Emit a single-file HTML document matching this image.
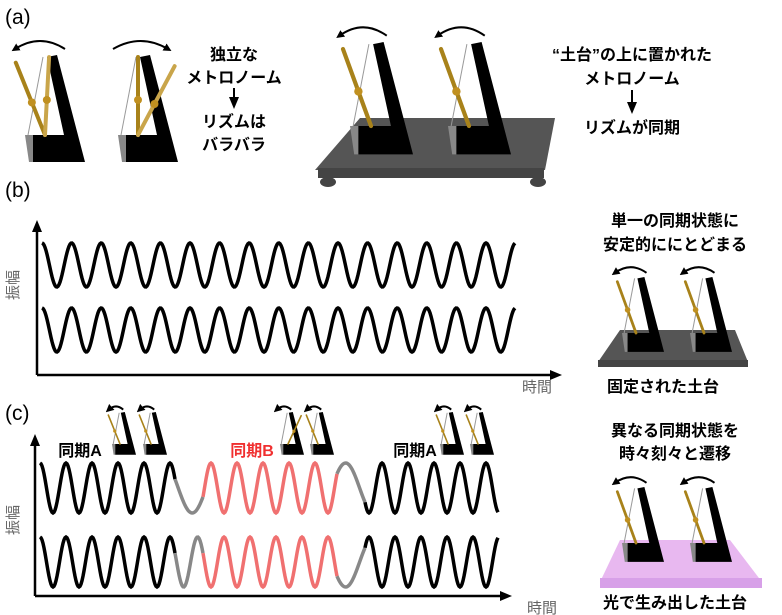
<!DOCTYPE html>
<html><head><meta charset="utf-8"><style>
body{margin:0;background:#fff}
svg{display:block}
text{font-family:"Liberation Sans","Noto Sans CJK JP",sans-serif;font-weight:bold}
</style></head><body>
<svg id="s" width="782" height="615" viewBox="0 0 782 615" xmlns="http://www.w3.org/2000/svg">
<defs>
<marker id="ar" markerUnits="userSpaceOnUse" markerWidth="12" markerHeight="12" refX="6" refY="6" orient="auto"><path d="M0,1 L12,6 L0,11 z" fill="#000"/></marker>
<marker id="sa" markerUnits="userSpaceOnUse" markerWidth="8" markerHeight="8" refX="4" refY="4" orient="auto"><path d="M0,0 L8,4 L0,8 z" fill="#000"/></marker>
</defs>
<text x="5" y="24" font-size="21" style="font-weight:normal">(a)</text>
<text x="5" y="197" font-size="21" style="font-weight:normal">(b)</text>
<text x="5" y="420" font-size="21" style="font-weight:normal">(c)</text>
<g font-size="16" text-anchor="middle">
<text x="234" y="60">独立な</text>
<text x="234" y="83">メトロノーム</text>
<text x="234" y="127">リズムは</text>
<text x="234" y="150">バラバラ</text>
<text x="632" y="60">“土台”の上に置かれた</text>
<text x="632" y="84">メトロノーム</text>
<text x="632" y="133">リズムが同期</text>
<text x="675" y="226">単一の同期状態に</text>
<text x="675" y="250">安定的ににとどまる</text>
<text x="663" y="392">固定された土台</text>
<text x="675" y="436">異なる同期状態を</text>
<text x="675" y="459">時々刻々と遷移</text>
<text x="675" y="608">光で生み出した土台</text>
<text x="80" y="456">同期A</text>
<text x="252" y="456" fill="#f03030">同期B</text>
<text x="415" y="456">同期A</text>
</g>
<g font-size="15" fill="#666">
<text x="522" y="392" style="font-weight:normal">時間</text>
<text x="527" y="613" style="font-weight:normal">時間</text>
<text transform="translate(18,300) rotate(-90)" style="font-weight:normal">振幅</text>
<text transform="translate(18,535) rotate(-90)" style="font-weight:normal">振幅</text>
</g>
<line x1="234" y1="88" x2="234" y2="103" stroke="#000" stroke-width="2" marker-end="url(#ar)"/>
<line x1="632" y1="90" x2="632" y2="108" stroke="#000" stroke-width="2" marker-end="url(#ar)"/>
<line x1="37" y1="375" x2="37" y2="226" stroke="#000" stroke-width="2.5" marker-end="url(#ar)"/>
<line x1="37" y1="375" x2="556" y2="375" stroke="#000" stroke-width="2.5" marker-end="url(#ar)"/>
<line x1="35" y1="596" x2="35" y2="440" stroke="#000" stroke-width="2.5" marker-end="url(#ar)"/>
<line x1="35" y1="596" x2="506" y2="596" stroke="#000" stroke-width="2.5" marker-end="url(#ar)"/>
<polygon points="360,118 555,118 545,170 315,170" fill="#555"/>
<rect x="318" y="168" width="226" height="10" fill="#444"/>
<ellipse cx="328" cy="182" rx="8" ry="5" fill="#444"/><ellipse cx="538" cy="182" rx="8" ry="5" fill="#444"/>
<polygon points="620,330 735,330 748,362 598,362" fill="#555"/>
<rect x="598" y="360" width="150" height="7" fill="#444"/>
<polygon points="620,540 730,540 762,582 600,582" fill="#e8b8f0"/>
<rect x="600" y="578" width="162" height="10" fill="#d7a0e8"/>
</svg>
<script>
var ns="http://www.w3.org/2000/svg",s=document.getElementById('s');
function el(t,a){var e=document.createElementNS(ns,t);for(var k in a)e.setAttribute(k,a[k]);s.appendChild(e);return e;}
function met(x,y,k,angs,arc,dir){
 function P(pts){return pts.map(function(p){return (x+p[0]*k)+','+(y+p[1]*k)}).join(' ');}
 el('polyline',{points:P([[18,2],[3,80]]),stroke:'#999','stroke-width':1,fill:'none'});
 el('polygon',{points:P([[0,80],[8,80],[8,107],[4,107]]),fill:'#888'});
 el('polygon',{points:P([[22,2],[32,0],[60,107],[8,107],[8,80],[39,80]]),fill:'#000'});
 angs.forEach(function(a,i){var r=a*Math.PI/180,px=20,py=80,L=78;
  var ex=px+Math.sin(r)*L,ey=py-Math.cos(r)*L;
  el('line',{x1:x+px*k,y1:y+py*k,x2:x+ex*k,y2:y+ey*k,stroke:i?'#c9a54a':'#a8821a','stroke-width':4*k,'stroke-linecap':'round'});
  el('circle',{cx:x+(px+(ex-px)*0.45)*k,cy:y+(py+(ey-py)*0.45)*k,r:4*k,fill:'#c09020'});});
 if(arc){var a0=arc[0],a1=arc[1];if(dir){var t=a0;a0=a1;a1=t;}
  el('path',{d:'M'+(x+a1*k)+','+(y-6*k)+' Q'+(x+((a0+a1)/2)*k)+','+(y-22*k)+' '+(x+a0*k)+','+(y-6*k),stroke:'#000','stroke-width':2,fill:'none','marker-end':'url(#sa)'});}
}
met(25,55,1,[-22,3],[-10,40]);
met(118,55,1,[0,28],[-5,50],1);
met(350,42,1.05,[-20],[-10,35]);
met(448,42,1.05,[-20],[-10,35]);
met(622,277,0.7,[-20],[-10,35]);
met(690,277,0.7,[-20],[-10,35]);
met(622,487,0.7,[-20],[-10,35]);
met(690,487,0.7,[-20],[-10,35]);
met(112,412,0.4,[-22],[-8,28]);met(143,412,0.4,[-22],[-8,28]);
met(280,412,0.4,[25],[-8,28]);met(310,412,0.4,[-22],[-8,28]);
met(440,412,0.4,[-22],[-8,28]);met(470,412,0.4,[-22],[-8,28]);
function wave(segs,cy,A,sw){var ph=Math.PI/2*3;
 segs.forEach(function(g){var d='';for(var x=g[0];x<=g[1]+0.01;x+=1){
  var p=ph+2*Math.PI*(x-g[0])/g[2];d+=(d?'L':'M')+x+','+(cy+A*Math.sin(p)).toFixed(2);}
  ph+=2*Math.PI*(g[1]-g[0])/g[2];
  el('path',{d:d,stroke:g[3],'stroke-width':sw,fill:'none'});});}
wave([[42,515,29.6,'#000']],265,22,3.5);
wave([[42,515,29.6,'#000']],330,22,3.5);
wave([[40,175,26,'#000'],[175,203,56,'#888'],[203,337,26,'#f07070'],[337,365,56,'#888'],[365,498,26,'#000']],488,25,3.5);
wave([[40,175,26,'#000'],[175,203,28,'#888'],[203,337,26,'#f07070'],[337,365,56,'#888'],[365,498,26,'#000']],562,25,3.5);
</script>
</body></html>
